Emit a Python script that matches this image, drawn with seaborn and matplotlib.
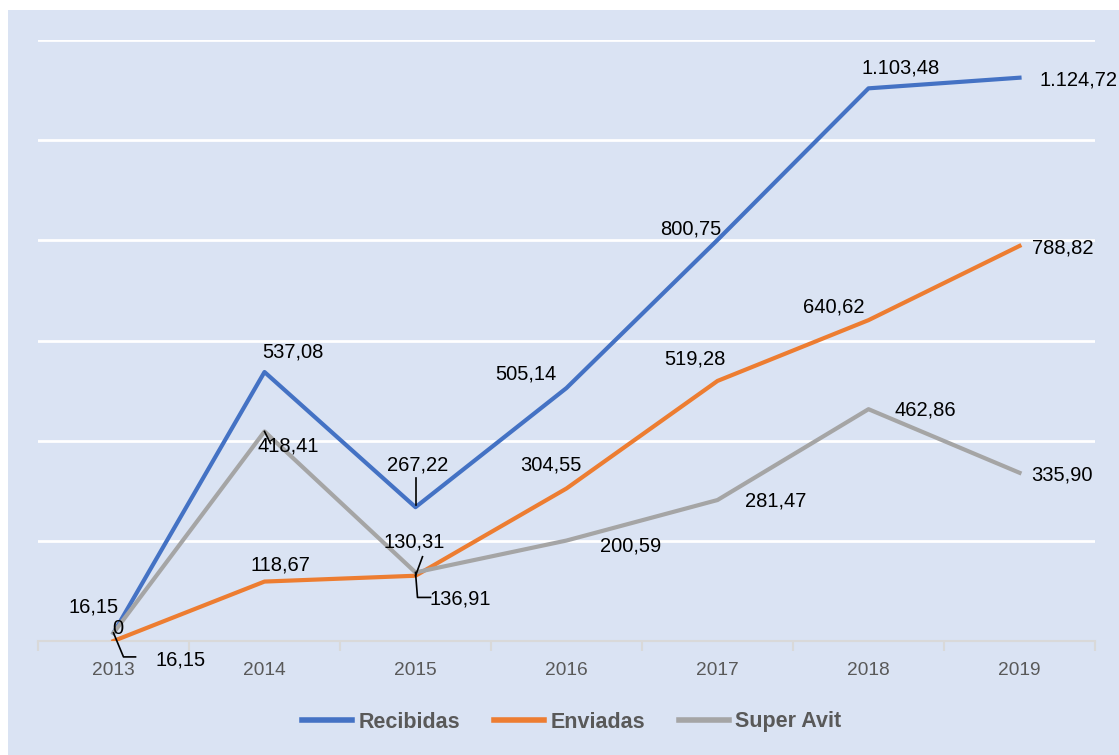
import matplotlib
matplotlib.use("Agg")
import matplotlib.pyplot as plt
import seaborn as sns
import pandas as pd
from matplotlib.lines import Line2D
from matplotlib.patches import Rectangle

# data
years = ["2013", "2014", "2015", "2016", "2017", "2018", "2019"]
recibidas = [16.15, 537.08, 267.22, 505.14, 800.75, 1103.48, 1124.72]
enviadas = [0, 118.67, 130.31, 304.55, 519.28, 640.62, 788.82]
super_avit = [16.15, 418.41, 136.91, 200.59, 281.47, 462.86, 335.90]
series_names = ["Recibidas", "Enviadas", "Super Avit"]

colors = ["#4472C4", "#ED7D31", "#A5A5A5"]
bg = "#DAE3F3"

# label offsets in pixels (dx, dy) for each point
label_offsets = {
    "Recibidas": [(-20, 26), (28, 20), (2, 42), (-41, 14), (-27, 11), (32, 20), (59, -2)],
    "Enviadas": [(4, 13), (16, 17), (-1, 34), (-16, 23), (-23, 22), (-35, 13), (43, -2)],
    "Super Avit": [(67, -27), (24, -15), (45, -27), (64, -5), (58, -1), (57, -1), (42, -2)],
}
# leader lines: (series, index, list of pixel offsets)
leaders = [
    ("Recibidas", 2, [(0, 2), (0, 29)]),
    ("Enviadas", 2, [(0, 0), (7, 19)]),
    ("Super Avit", 2, [(0, 0), (2, -25), (15, -25)]),
    ("Super Avit", 0, [(0, 0), (10, -24), (22, -24)]),
    ("Super Avit", 1, [(0, 0), (6, -12)]),
]

def fmt(v):
    if v == 0:
        return "0"
    s = f"{v:,.2f}"
    return s.replace(",", "X").replace(".", ",").replace("X", ".")

df = pd.DataFrame({
    "year": years * 3,
    "value": recibidas + enviadas + super_avit,
    "serie": sum([[n] * len(years) for n in series_names], []),
})

plt.rcParams["font.family"] = ["Liberation Sans", "DejaVu Sans"]

fig = plt.figure(figsize=(11.19, 7.55), dpi=100)
fig.patches.append(Rectangle((8 / 1119, 0), 1, 1 - 10 / 755, transform=fig.transFigure,
                             facecolor=bg, edgecolor="none", zorder=-10))
ax = fig.add_axes([38 / 1119, 1 - 641 / 755, (1095 - 38) / 1119, (641 - 40) / 755])
ax.set_facecolor(bg)

sns.lineplot(data=df, x="year", y="value", hue="serie", palette=colors,
             linewidth=3, ax=ax, legend=False, sort=False, zorder=3)

ax.set_xlim(-0.5, 6.5)
ax.set_ylim(0, 1200)
ax.set_yticks(range(200, 1201, 200))
ax.tick_params(axis="y", left=False, labelleft=False)
ax.grid(axis="y", color="white", linewidth=2)
ax.grid(axis="x", visible=False)
ax.set_axisbelow(True)
for s in ["left", "right", "top"]:
    ax.spines[s].set_visible(False)
ax.spines["bottom"].set_color("#D9D9D9")
ax.spines["bottom"].set_linewidth(1.5)
ax.set_xticks(range(len(years)))
ax.set_xticklabels(years)
ax.tick_params(axis="x", which="major", length=0, pad=15, labelsize=13.8, labelcolor="#595959")
ax.set_xticks([i - 0.5 for i in range(len(years) + 1)], minor=True)
ax.tick_params(axis="x", which="minor", length=7, width=1.5, color="#D9D9D9")
ax.set_xlabel("")
ax.set_ylabel("")

# data labels
all_values = {"Recibidas": recibidas, "Enviadas": enviadas, "Super Avit": super_avit}
for name in series_names:
    vals = all_values[name]
    for i, v in enumerate(vals):
        dx, dy = label_offsets[name][i]
        ax.annotate(fmt(v), (i, v), xytext=(dx, dy), textcoords="offset pixels",
                    ha="center", va="center", fontsize=14.5, color="black", zorder=5)

fig.canvas.draw()
for name, i, pts in leaders:
    px, py = ax.transData.transform((i, all_values[name][i]))
    xs = [px + p[0] for p in pts]
    ys = [py + p[1] for p in pts]
    fig.add_artist(Line2D(xs, ys, transform=None, color="black", linewidth=1.2, zorder=6))

handles = [Line2D([0], [0], color=c, linewidth=4) for c in colors]
leg = fig.legend(handles, series_names, loc="center", bbox_to_anchor=(0.511, 1 - 722 / 755),
                 ncol=3, frameon=False, handlelength=2.3, handletextpad=0.3, columnspacing=1.6,
                 prop={"weight": "bold", "size": 15.5})
for t in leg.get_texts():
    t.set_color("#595959")

fig.savefig("out.png", dpi=100)
